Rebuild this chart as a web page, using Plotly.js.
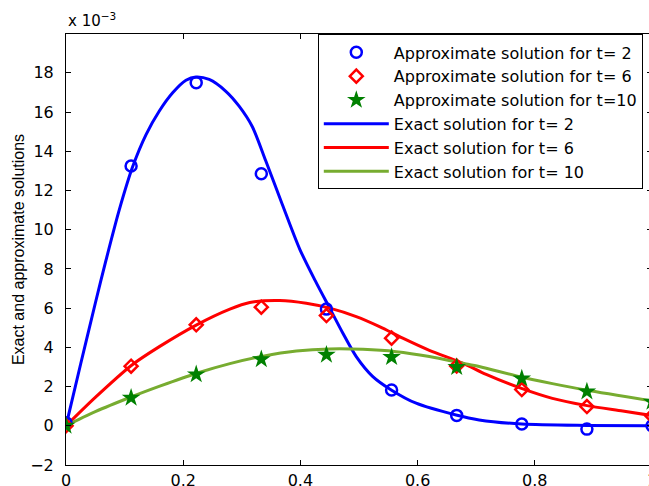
<!DOCTYPE html>
<html>
<head>
<meta charset="utf-8">
<script src="https://cdn.plot.ly/plotly-3.0.1.min.js"></script>
<style>
html,body{margin:0;padding:0;overflow:hidden;background:#fff;}
#plot{width:700px;height:486px;}
</style>
</head>
<body>
<div id="plot"></div>
<script>
// values in units of 1e-3
var xApprox = [0, 0.1111, 0.2222, 0.3333, 0.4444, 0.5556, 0.6667, 0.7778, 0.8889, 1.0];
var approxT2  = [0.15, 13.25, 17.5, 12.85, 5.95, 1.83, 0.53, 0.09, -0.17, 0.0];
var approxT6  = [0.0, 3.04, 5.15, 6.05, 5.62, 4.47, 3.05, 1.85, 0.98, 0.5];
var approxT10 = [0.0, 1.43, 2.62, 3.39, 3.62, 3.5, 2.99, 2.41, 1.75, 1.22];

var xExactT2 = [0, 0.025, 0.05, 0.0685, 0.091, 0.114, 0.1366, 0.159, 0.182, 0.2047, 0.2217, 0.2443, 0.2728, 0.2954, 0.318, 0.341, 0.369, 0.399, 0.427, 0.45, 0.4725, 0.4953, 0.5236, 0.555, 0.5975, 0.6656, 0.705, 0.778, 0.889, 1.0];
var exactT2  = [0, 3.15, 6.25, 8.47, 11.02, 13.23, 14.85, 16.04, 16.98, 17.62, 17.79, 17.66, 17.06, 16.3, 15.25, 13.5, 11.3, 9.0, 7.3, 6.0, 4.72, 3.53, 2.51, 1.83, 1.15, 0.55, 0.3, 0.09, 0.02, 0.0];

var xExactT6 = [0, 0.05, 0.112, 0.16, 0.223, 0.2796, 0.3136, 0.3647, 0.41, 0.45, 0.4953, 0.535, 0.5747, 0.62, 0.6768, 0.717, 0.776, 0.83, 0.887, 0.95, 1.0];
var exactT6  = [0, 1.45, 3.09, 4.05, 5.15, 5.95, 6.29, 6.39, 6.25, 6.0, 5.57, 5.06, 4.47, 3.85, 3.2, 2.62, 1.92, 1.4, 1.04, 0.75, 0.52];

var xExactT10 = [0, 0.05, 0.112, 0.16, 0.223, 0.2796, 0.3363, 0.393, 0.45, 0.5066, 0.5634, 0.62, 0.6768, 0.705, 0.776, 0.83, 0.887, 1.0];
var exactT10  = [0, 0.72, 1.48, 2.02, 2.68, 3.17, 3.55, 3.81, 3.92, 3.9, 3.78, 3.53, 3.19, 3.02, 2.49, 2.15, 1.82, 1.27];

var xTicks = [0, 0.2, 0.4, 0.6, 0.8, 1];
var xTickText = ['0', '0.2', '0.4', '0.6', '0.8', '1'];
var yTicks = [-2, 0, 2, 4, 6, 8, 10, 12, 14, 16, 18];
var yTickText = ['\u22122', '0', '2', '4', '6', '8', '10', '12', '14', '16', '18'];

var names = ['Approximate solution for t= 2', 'Approximate solution for t= 6', 'Approximate solution for t=10',
             'Exact solution for t= 2', 'Exact solution for t= 6', 'Exact solution for t= 10'];

var traces = [
  {x: xExactT2, y: exactT2, mode: 'lines', line: {color: '#0000FF', width: 3, shape: 'spline', smoothing: 0.8}, name: names[3], legendrank: 4},
  {x: xExactT6, y: exactT6, mode: 'lines', line: {color: '#FF0000', width: 3, shape: 'spline', smoothing: 0.8}, name: names[4], legendrank: 5},
  {x: xExactT10, y: exactT10, mode: 'lines', line: {color: '#77AC30', width: 3, shape: 'spline', smoothing: 0.8}, name: names[5], legendrank: 6},
  {x: xApprox, y: approxT2, mode: 'markers', marker: {symbol: 'circle-open', size: 11, color: '#0000FF', line: {width: 2.5}}, name: names[0], legendrank: 1},
  {x: xApprox, y: approxT6, mode: 'markers', marker: {symbol: 'diamond-open', size: 10, color: '#FF0000', line: {width: 2.5}}, name: names[1], legendrank: 2},
  {x: xApprox, y: approxT10, mode: 'markers', marker: {symbol: 'star', size: 14, color: '#008000', line: {width: 0}}, name: names[2], legendrank: 3}
];

var tickFont = {family: 'DejaVu Sans', size: 16, color: '#000'};

var layout = {
  width: 700, height: 486,
  margin: {l: 66, r: 47.5, t: 34, b: 21, pad: 0},
  paper_bgcolor: '#fff', plot_bgcolor: '#fff',
  showlegend: true,
  legend: {
    x: 0.4297, y: 0.999, xanchor: 'left', yanchor: 'top',
    bgcolor: '#fff', bordercolor: '#000', borderwidth: 1,
    font: {family: 'DejaVu Sans', size: 16, color: '#000'},
    itemwidth: 65, traceorder: 'normal'
  },
  xaxis: {
    range: [0, 1], tickvals: xTicks, ticktext: xTickText,
    ticks: 'inside', ticklen: 5, tickcolor: '#000', tickwidth: 1,
    showline: true, linecolor: '#000', linewidth: 1, mirror: 'allticks',
    showgrid: false, zeroline: false, tickfont: tickFont, ticklabelstandoff: 1
  },
  yaxis: {
    range: [-2, 19.98], tickvals: yTicks, ticktext: yTickText,
    ticks: 'inside', ticklen: 5, tickcolor: '#000', tickwidth: 1,
    showline: true, linecolor: '#000', linewidth: 1, mirror: 'allticks',
    showgrid: false, zeroline: false, tickfont: tickFont, ticklabelstandoff: 8,
    title: {text: 'Exact and approximate solutions', font: {family: 'Liberation Sans', size: 16, color: '#000'}, standoff: 1}
  },
  annotations: [{
    xref: 'paper', yref: 'paper', x: 0, y: 1, xanchor: 'left', yanchor: 'bottom', yshift: 2,
    text: 'x 10<sup>\u22123</sup>', showarrow: false,
    font: {family: 'DejaVu Sans', size: 15, color: '#000'}
  }]
};

Plotly.newPlot('plot', traces, layout, {displayModeBar: false, staticPlot: true});
</script>
</body>
</html>
